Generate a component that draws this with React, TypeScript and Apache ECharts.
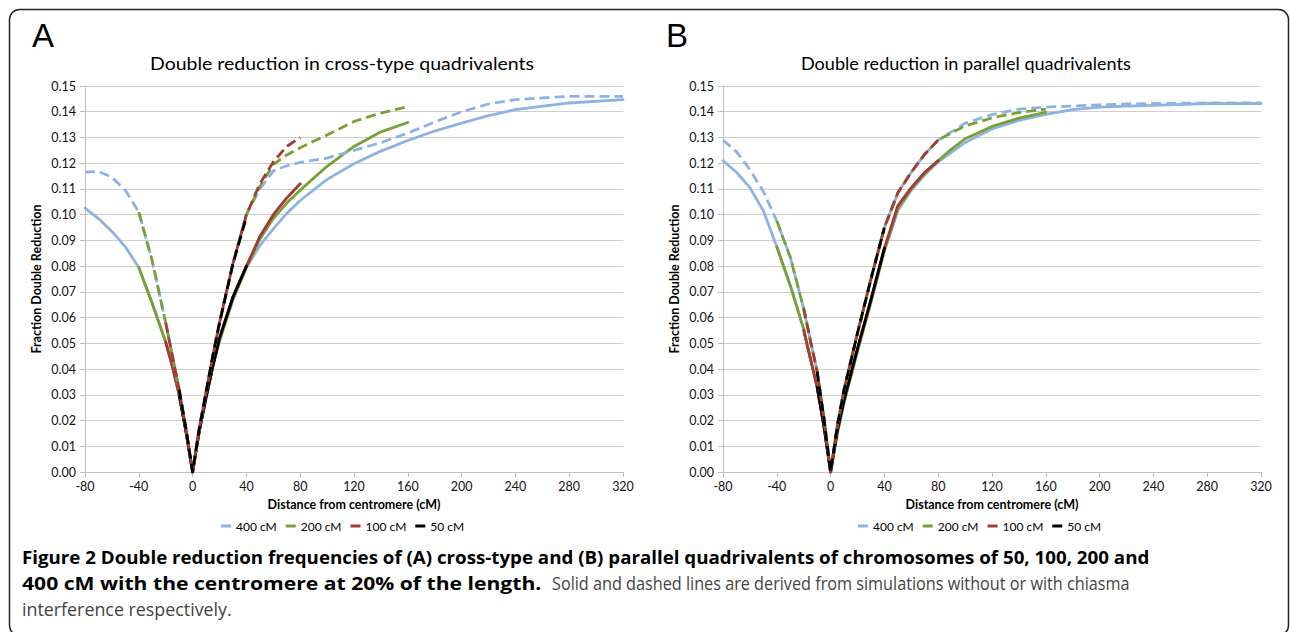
import React, { useEffect, useRef } from "react";
import * as echarts from "echarts";

// ---------- data ----------
const xTicks = [-80, -40, 0, 40, 80, 120, 160, 200, 240, 280, 320];
const sizeNames = ["400 cM", "200 cM", "100 cM", "50 cM"];

const xs400 = [-80, -70, -60, -50, -40, -30, -20, -15, -10, -5, 0, 5, 10, 15, 20, 30, 40, 50, 60, 70, 80, 100, 120, 140, 160, 180, 200, 220, 240, 280, 320];
const xs200 = [-40, -30, -20, -15, -10, -5, 0, 5, 10, 15, 20, 30, 40, 50, 60, 70, 80, 90, 100, 120, 140, 160];
const xs100 = [-20, -15, -10, -5, 0, 5, 10, 15, 20, 30, 40, 50, 60, 70, 80];
const xs50 = [-10, -5, 0, 5, 10, 15, 20, 30, 40];

// Panel A: cross-type quadrivalents
const a400Solid = [0.1025, 0.0985, 0.0935, 0.0875, 0.0795, 0.0655, 0.0505, 0.041, 0.030, 0.016, 0, 0.016, 0.029, 0.041, 0.051, 0.067, 0.0795, 0.088, 0.0945, 0.1005, 0.1055, 0.1137, 0.1198, 0.1247, 0.1288, 0.1325, 0.1356, 0.1385, 0.1408, 0.1434, 0.1447];
const a200Solid = [0.0795, 0.0655, 0.0505, 0.041, 0.030, 0.016, 0, 0.016, 0.029, 0.041, 0.051, 0.067, 0.0795, 0.0905, 0.0985, 0.1045, 0.1095, 0.1142, 0.1188, 0.1265, 0.1322, 0.1358];
const a100Solid = [0.0505, 0.041, 0.030, 0.016, 0, 0.016, 0.029, 0.041, 0.052, 0.068, 0.080, 0.0915, 0.1, 0.1065, 0.112];
const a50Solid = [0.030, 0.016, 0, 0.016, 0.029, 0.041, 0.052, 0.068, 0.080];
const a400Dashed = [0.1165, 0.1168, 0.1145, 0.1095, 0.101, 0.082, 0.058, 0.045, 0.032, 0.017, 0, 0.017, 0.031, 0.045, 0.058, 0.081, 0.100, 0.110, 0.117, 0.119, 0.1203, 0.122, 0.125, 0.128, 0.1317, 0.136, 0.140, 0.143, 0.1447, 0.146, 0.146];
const a200Dashed = [0.101, 0.082, 0.058, 0.045, 0.032, 0.017, 0, 0.017, 0.031, 0.045, 0.058, 0.081, 0.100, 0.111, 0.1195, 0.1232, 0.126, 0.1285, 0.131, 0.1362, 0.1395, 0.142];
const a100Dashed = [0.058, 0.045, 0.032, 0.017, 0, 0.017, 0.031, 0.045, 0.058, 0.081, 0.100, 0.112, 0.1205, 0.1265, 0.130];
const a50Dashed = [0.032, 0.017, 0, 0.017, 0.031, 0.045, 0.058, 0.081, 0.099];

// Panel B: parallel quadrivalents
const b400Solid = [0.121, 0.1165, 0.1105, 0.1015, 0.0875, 0.0725, 0.0555, 0.044, 0.033, 0.018, 0, 0.015, 0.027, 0.037, 0.047, 0.066, 0.086, 0.1015, 0.1095, 0.1155, 0.1205, 0.128, 0.1333, 0.1366, 0.139, 0.1408, 0.1418, 0.1422, 0.1425, 0.1432, 0.1432];
const b200Solid = [0.0875, 0.0725, 0.0555, 0.044, 0.033, 0.018, 0, 0.015, 0.027, 0.037, 0.047, 0.066, 0.086, 0.1025, 0.110, 0.116, 0.121, 0.1255, 0.1295, 0.1343, 0.1375, 0.1398];
const b100Solid = [0.055, 0.044, 0.033, 0.018, 0, 0.016, 0.028, 0.038, 0.048, 0.067, 0.087, 0.1035, 0.1105, 0.1165, 0.121];
const b50Solid = [0.033, 0.018, 0, 0.016, 0.028, 0.038, 0.048, 0.067, 0.087];
const b400Dashed = [0.129, 0.1245, 0.1175, 0.109, 0.0975, 0.0835, 0.0635, 0.051, 0.039, 0.021, 0, 0.018, 0.032, 0.043, 0.054, 0.075, 0.095, 0.1085, 0.1165, 0.1235, 0.129, 0.1355, 0.1389, 0.141, 0.1418, 0.1422, 0.1427, 0.143, 0.1432, 0.1434, 0.1434];
const b200Dashed = [0.0975, 0.0835, 0.0635, 0.051, 0.039, 0.021, 0, 0.018, 0.032, 0.043, 0.054, 0.075, 0.095, 0.1085, 0.1165, 0.1235, 0.129, 0.1318, 0.1345, 0.1376, 0.1397, 0.141];
const b100Dashed = [0.0635, 0.051, 0.039, 0.021, 0, 0.018, 0.032, 0.043, 0.054, 0.075, 0.095, 0.1085, 0.1165, 0.1235, 0.129];
const b50Dashed = [0.039, 0.021, 0, 0.018, 0.032, 0.043, 0.054, 0.075, 0.095];

const titleA = "Double reduction in cross-type quadrivalents";
const titleB = "Double reduction in parallel quadrivalents";
const xName = "Distance from centromere (cM)";
const yName = "Fraction Double Reduction";
const cap1 = "Figure 2 Double reduction frequencies of (A) cross-type and (B) parallel quadrivalents of chromosomes of 50, 100, 200 and";
const cap2b = "400 cM with the centromere at 20% of the length.";
const cap2n = "Solid and dashed lines are derived from simulations without or with chiasma";
const cap3 = "interference respectively.";

// ---------- styling ----------
const COLORS = ["#8db3e2", "#77a035", "#a53935", "#000000"];
const FONT = "Lato, 'Open Sans', sans-serif";
const CAP_FAMILY = "'Open Sans'";

const zip = (xs: number[], ys: number[]) => xs.map((x, i) => [x, ys[i]]);

function measure(text: string, font: string): number {
  const c = document.createElement("canvas").getContext("2d");
  if (!c) return text.length * 8;
  c.font = font;
  return c.measureText(text).width;
}

function textEl(text: string, x: number, y: number, s: number, size: number, weight: string, family: string, color: string) {
  return {
    type: "text",
    x,
    y,
    scaleX: s,
    style: { text, x: 0, y: 0, fontSize: size, fontWeight: weight, fontFamily: family, fill: color, verticalAlign: "middle", align: "left" },
  };
}

function fitText(text: string, x: number, y: number, target: number, size: number, weight: string, family: string, color: string) {
  const w = measure(text, `${weight} ${size}px ${family}`);
  return textEl(text, x, y, w > 0 ? target / w : 1, size, weight, family, color);
}

export default function App() {
  const ref = useRef<HTMLDivElement>(null);

  useEffect(() => {
    if (!ref.current) return;
    const chart = echarts.init(ref.current, undefined, { renderer: "svg" });

    const panels = [
      { solid: [a400Solid, a200Solid, a100Solid, a50Solid], dashed: [a400Dashed, a200Dashed, a100Dashed, a50Dashed] },
      { solid: [b400Solid, b200Solid, b100Solid, b50Solid], dashed: [b400Dashed, b200Dashed, b100Dashed, b50Dashed] },
    ];
    const xsList = [xs400, xs200, xs100, xs50];

    const series: any[] = [];
    panels.forEach((p, gi) => {
      p.solid.forEach((ys, k) => {
        series.push({
          type: "line", name: sizeNames[k], xAxisIndex: gi, yAxisIndex: gi,
          data: zip(xsList[k], ys), symbol: "none", smooth: false, color: COLORS[k],
          lineStyle: { width: 2.8, color: COLORS[k], cap: "round", join: "round" },
        });
      });
      p.dashed.forEach((ys, k) => {
        series.push({
          type: "line", name: sizeNames[k], xAxisIndex: gi, yAxisIndex: gi,
          data: zip(xsList[k], ys), symbol: "none", smooth: false, color: COLORS[k],
          lineStyle: { width: 2.8, color: COLORS[k], type: [10, 5], join: "round" },
        });
      });
    });

    const grids = [
      { left: 85, top: 86, width: 538, height: 386 },
      { left: 723, top: 86, width: 538, height: 386 },
    ];

    const xAxis = grids.map((_, gi) => ({
      type: "value", gridIndex: gi,
      min: xTicks[0], max: xTicks[xTicks.length - 1], interval: 40,
      name: xName, nameLocation: "middle", nameGap: 26,
      nameTextStyle: { fontFamily: FONT, fontSize: 12.5, fontWeight: "bold", color: "#000" },
      axisLine: { show: true, onZero: false, lineStyle: { color: "#bfbfbf", width: 1 } },
      axisTick: { show: true, length: 5, lineStyle: { color: "#bfbfbf" } },
      axisLabel: { fontFamily: FONT, fontSize: 12.5, color: "#111", margin: 8 },
      splitLine: { show: false },
    }));

    const yAxis = grids.map((_, gi) => ({
      type: "value", gridIndex: gi,
      min: 0, max: 0.15, interval: 0.01,
      name: yName, nameLocation: "middle", nameGap: 42,
      nameTextStyle: { fontFamily: FONT, fontSize: 12.5, fontWeight: "bold", color: "#000" },
      axisLine: { show: true, onZero: false, lineStyle: { color: "#bfbfbf", width: 1 } },
      axisTick: { show: true, length: 5, lineStyle: { color: "#bfbfbf" } },
      axisLabel: { fontFamily: FONT, fontSize: 12.5, color: "#111", margin: 9, formatter: (v: number) => v.toFixed(2) },
      splitLine: { show: true, lineStyle: { color: "#cfcfcf", width: 1.2 } },
    }));

    const legendBase = {
      data: sizeNames, icon: "rect", itemWidth: 10, itemHeight: 3, itemGap: 9, orient: "horizontal",
      textStyle: { fontFamily: FONT, fontSize: 12, color: "#000" }, selectedMode: false,
    };

    const graphic: any[] = [
      { type: "rect", shape: { x: 9.5, y: 9.5, width: 1279, height: 626, r: 10 }, style: { fill: "none", stroke: "#222", lineWidth: 1.5 }, silent: true },
      { type: "text", x: 32, y: 52, style: { text: "A", fontSize: 33, fontFamily: "'Liberation Sans', Arial, sans-serif", fill: "#000", verticalAlign: "bottom" } },
      { type: "text", x: 666, y: 52, style: { text: "B", fontSize: 33, fontFamily: "'Liberation Sans', Arial, sans-serif", fill: "#000", verticalAlign: "bottom" } },
      fitText(titleA, 150, 63, 384, 18, "normal", "Lato", "#000"),
      fitText(titleB, 801, 63, 330, 18, "normal", "Lato", "#000"),
      fitText(cap1, 22, 557, 1128, 18, "bold", CAP_FAMILY, "#000"),
      fitText(cap2b, 22, 583, 520, 18, "bold", CAP_FAMILY, "#000"),
      fitText(cap2n, 552, 583, 578, 18, "normal", CAP_FAMILY, "#444"),
      fitText(cap3, 22, 609, 210, 18, "normal", CAP_FAMILY, "#444"),
    ];

    chart.setOption({
      animation: false,
      backgroundColor: "#ffffff",
      grid: grids.map((g) => ({ ...g, containLabel: false })),
      xAxis, yAxis,
      legend: [
        { ...legendBase, left: 216, top: 515 },
        { ...legendBase, left: 853, top: 515 },
      ],
      series, graphic,
    });

    return () => chart.dispose();
  }, []);

  return <div ref={ref} style={{ position: "absolute", left: 0, top: 0, width: 1290, height: 632 }} />;
}
